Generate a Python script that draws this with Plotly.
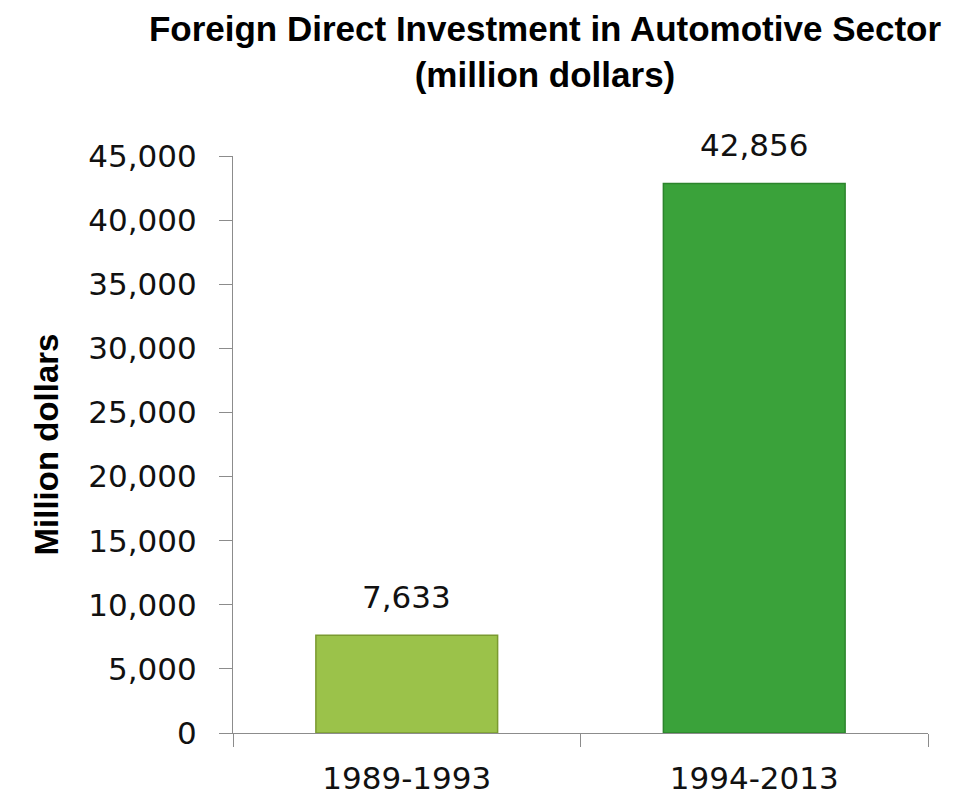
import plotly.graph_objects as go

categories = ["1989-1993", "1994-2013"]
values = [7633, 42856]
value_labels = ["7,633", "42,856"]
bar_colors = ["#9BC24A", "#3AA23A"]
bar_lines = ["#7A9A30", "#2C852C"]
y_ticks = [0, 5000, 10000, 15000, 20000, 25000, 30000, 35000, 40000, 45000]
y_tick_text = ["0", "5,000", "10,000", "15,000", "20,000", "25,000", "30,000", "35,000", "40,000", "45,000"]

# page body adds an 8px offset, so the figure is drawn 8px smaller
W, H = 947, 790
num_font = dict(family="DejaVu Sans", size=31, color="#111111")

fig = go.Figure()
fig.add_trace(go.Bar(
    x=categories,
    y=values,
    marker=dict(color=bar_colors, line=dict(color=bar_lines, width=1.5)),
    width=0.523,
    hoverinfo="skip",
))

for c, v, t in zip(categories, values, value_labels):
    fig.add_annotation(x=c, y=v, text=t, showarrow=False, yanchor="bottom",
                       yshift=18, font=num_font)

fig.update_layout(
    width=W, height=H,
    margin=dict(l=225, r=27, t=148, b=65, autoexpand=False),
    paper_bgcolor="white", plot_bgcolor="white",
    showlegend=False,
    title=dict(
        text="<b>Foreign Direct Investment in Automotive Sector<br>(million dollars)</b>",
        x=537 / W, xanchor="center", xref="container",
        y=1 - 33 / H, yanchor="top", yref="container",
        font=dict(family="Liberation Sans", size=35, color="#000000"),
    ),
    xaxis=dict(
        showline=True, linecolor="#8c8c8c", linewidth=1,
        ticks="outside", tickson="boundaries", ticklen=13, tickcolor="#8c8c8c",
        tickfont=num_font, ticklabelstandoff=18,
        showgrid=False, zeroline=False, fixedrange=True,
    ),
    yaxis=dict(
        range=[0, 45000], tickvals=y_ticks, ticktext=y_tick_text,
        showline=True, linecolor="#8c8c8c", linewidth=1,
        ticks="outside", ticklen=13, tickcolor="#8c8c8c",
        tickfont=num_font, ticklabelstandoff=16,
        showgrid=False, zeroline=False, fixedrange=True,
        title=dict(text="<b>Million dollars</b>", standoff=19,
                   font=dict(family="Liberation Sans", size=33, color="#000000")),
    ),
)

fig.write_html("out.html")
